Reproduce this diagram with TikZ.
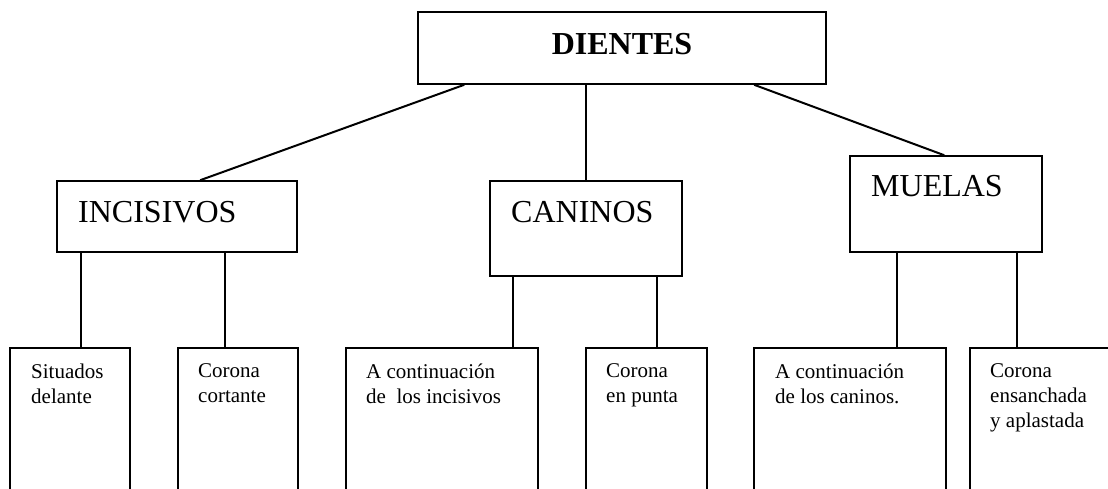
\documentclass[tikz,border=0pt]{standalone}
\usepackage{fontspec}
\setmainfont{Liberation Serif}
\begin{document}
\begin{tikzpicture}[x=1pt,y=-1pt,
  box/.style={draw=black, line width=1.6pt, fill=none},
  conn/.style={draw=black, line width=2pt},
  bigtxt/.style={inner sep=0pt, anchor=base west, font=\fontsize{32}{38}\selectfont},
  smalltxt/.style={inner sep=0pt, anchor=north west, align=left, font=\fontsize{21}{25}\selectfont}]
\clip (0,0) rectangle (1108,488);
\fill[white] (0,0) rectangle (1108,488);
% boxes
\node[box, minimum width=408pt, minimum height=72pt, inner sep=0pt] (dientes) at (622,48) {};
\node[box, minimum width=240pt, minimum height=71pt, inner sep=0pt] (inc) at (177,216.5) {};
\node[box, minimum width=192pt, minimum height=95pt, inner sep=0pt] (can) at (586,228.5) {};
\node[box, minimum width=192pt, minimum height=96pt, inner sep=0pt] (mue) at (946,204) {};
\node[box, minimum width=120pt, minimum height=172pt, inner sep=0pt] (b1) at (70,434) {};
\node[box, minimum width=120pt, minimum height=172pt, inner sep=0pt] (b2) at (238,434) {};
\node[box, minimum width=192pt, minimum height=172pt, inner sep=0pt] (b3) at (442,434) {};
\node[box, minimum width=121pt, minimum height=172pt, inner sep=0pt] (b4) at (646.5,434) {};
\node[box, minimum width=192pt, minimum height=172pt, inner sep=0pt] (b5) at (850,434) {};
\node[box, minimum width=150pt, minimum height=172pt, inner sep=0pt] (b6) at (1045,434) {};
% texts
\node[bigtxt, anchor=base] (tD) at (622,54) {\textbf{DIENTES}};
\node[bigtxt] (tI) at (78,222) {INCISIVOS};
\node[bigtxt] (tC) at (511,222) {CANINOS};
\node[bigtxt] (tM) at (871,196) {MUELAS};
\node[smalltxt] (t1) at (31,363.7) {Situados\\delante};
\node[smalltxt] (t2) at (198,363.7) {Corona\\cortante};
\node[smalltxt] (t3) at (366,363.7) {A continuación\\de\ \ los incisivos};
\node[smalltxt] (t4) at (606,363.7) {Corona\\en punta};
\node[smalltxt] (t5) at (775,363.7) {A continuación\\de los caninos.};
\node[smalltxt] (t6) at (990,363.7) {Corona\\ensanchada\\y aplastada};
% connectors
\draw[conn] ([xshift=47pt]dientes.south west) -- ([xshift=144pt]inc.north west);
\draw[conn] ([xshift=169pt]dientes.south west) -- ([xshift=97pt]can.north west);
\draw[conn] ([xshift=337pt]dientes.south west) -- ([xshift=95pt]mue.north west);
\draw[conn] ([xshift=25pt]inc.south west) -- ([xshift=72pt]b1.north west);
\draw[conn] ([xshift=169pt]inc.south west) -- ([xshift=48pt]b2.north west);
\draw[conn] ([xshift=24pt]can.south west) -- ([xshift=168pt]b3.north west);
\draw[conn] ([xshift=168pt]can.south west) -- ([xshift=72pt]b4.north west);
\draw[conn] ([xshift=48pt]mue.south west) -- ([xshift=144pt]b5.north west);
\draw[conn] ([xshift=168pt]mue.south west) -- ([xshift=48pt]b6.north west);
\end{tikzpicture}
\end{document}
